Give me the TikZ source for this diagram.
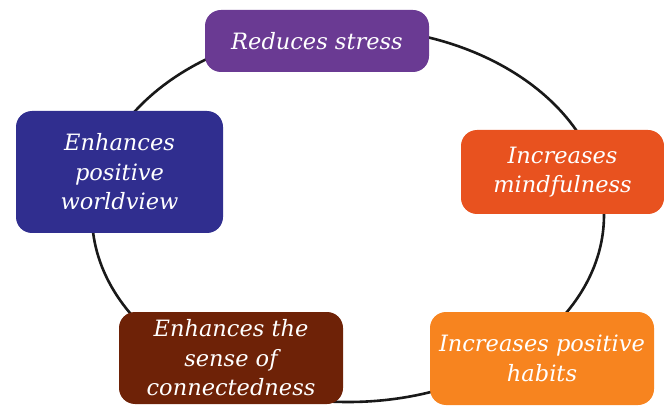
\documentclass[tikz,border=0pt]{standalone}
\usepackage{fontspec}
\setmainfont{DejaVu Serif}
\usetikzlibrary{positioning}
\definecolor{stresspurple}{RGB}{106,58,147}
\definecolor{viewblue}{RGB}{48,46,143}
\definecolor{mindred}{RGB}{232,82,31}
\definecolor{connbrown}{RGB}{110,34,7}
\definecolor{habitorange}{RGB}{247,132,31}
\tikzset{
    benefit/.style={rounded corners=16pt, text=white, align=center, inner sep=0pt,
        font=\fontsize{22.5}{29.5}\selectfont\itshape},
}

\begin{document}
\begin{tikzpicture}[x=1pt, y=-1pt]
    \useasboundingbox (0,0) rectangle (664,406);
    % the cycle
    \draw[line width=2.6pt, black!90] (348,215) ellipse [x radius=256, y radius=187];

    \node[benefit, fill=stresspurple, minimum width=224pt, minimum height=62pt] (stress) at (317,41) {Reduces stress};
    \node[benefit, fill=viewblue, minimum width=207pt, minimum height=122pt] (worldview) at (119.5,172) {Enhances\\positive\\worldview};
    \node[benefit, fill=mindred, minimum width=203pt, minimum height=84pt] (mindful) at (562.5,172) {Increases\\mindfulness};
    \node[benefit, fill=connbrown, minimum width=224pt, minimum height=92pt] (connect) at (231,358) {Enhances the\\sense of\\connectedness};
    \node[benefit, fill=habitorange, minimum width=224pt, minimum height=93pt] (habits) at (542,358.5) {Increases positive\\habits};
\end{tikzpicture}
\end{document}
